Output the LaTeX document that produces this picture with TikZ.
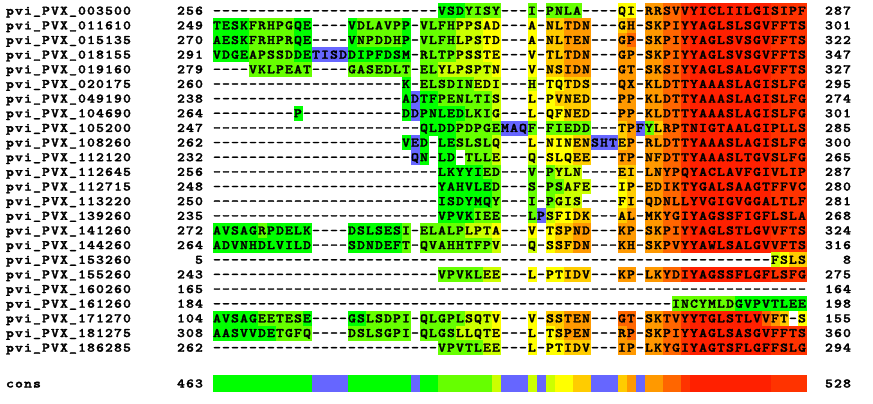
\documentclass[tikz,border=0pt]{standalone}
\usepackage{tikz}
\usepackage{fontspec}
\newfontfamily\resfont{lmmonolt10-bold.otf}[FakeBold=2]
\definecolor{sc0}{HTML}{6666FF}
\definecolor{sc1}{HTML}{00FF00}
\definecolor{sc2}{HTML}{66FF00}
\definecolor{sc3}{HTML}{CCFF00}
\definecolor{sc4}{HTML}{FFFF00}
\definecolor{sc5}{HTML}{FFCC00}
\definecolor{sc6}{HTML}{FF9900}
\definecolor{sc7}{HTML}{FF6600}
\definecolor{sc8}{HTML}{FF3300}
\definecolor{sc9}{HTML}{FF2000}

% one character per 9pt cell, '*' leaves the cell empty
\newcount\cellno
\makeatletter
\newcommand\putchars[4]{% tag, first cell, row centre, characters
  \cellno=#2\relax\def\cell@tag{#1}\def\cell@y{#3}%
  \expandafter\cell@char#4\@nil}
\def\cell@char#1{%
  \ifx#1\@nil\else
    \ifx#1*\else
      \node[res] (\cell@tag-\the\cellno) at ({10+9*\the\cellno},{\cell@y+4}) {\scalebox{1.15}[1]{#1}};%
    \fi
    \advance\cellno by 1\relax
    \expandafter\cell@char
  \fi}
\newcommand\putscores[4]{% first cell, row centre, height, score digits
  \cellno=#1\relax\def\cell@y{#2}\def\cell@h{#3}%
  \expandafter\cell@fill#4\@nil}
\def\cell@fill#1{%
  \ifx#1\@nil\else
    \ifx#1*\else
      \fill[sc#1] ({5.5+9*\the\cellno},{\cell@y-\cell@h/2}) rectangle +(9.3,\cell@h+0.3);%
    \fi
    \advance\cellno by 1\relax
    \expandafter\cell@fill
  \fi}
\makeatother

\begin{document}
\begin{tikzpicture}[x=1pt,y=-1pt,
  res/.style={font={\resfont\fontsize{13}{13}\selectfont},text=black,inner sep=0pt,anchor=base}]
  \fill[white] (0,0) rectangle (873,404);
  \useasboundingbox (0,0) rectangle (873,404);

  % alignment rows: id / start / residues / scores / end
  \foreach \id/\lnum/\seq/\score/\rnum [count=\i from 0] in {
    003500/256/-------------------------VSDYISY---I-PNLA----QI-RRSVVYICLIILGISIPF/*************************1112222***2*2222****44*667789999999998888/287,
    011610/249/TESKFRHPGQE----VDLAVPP-VLFHPPSAD---A-NLTDN---GH-SKPIYYAGLSLSGVFFTS/11112222211****1222221*222233344***4*55666***56*667789999999998888/301,
    015135/270/AESKFRHPRQE----VNPDDHP-VLFHLPSTD---A-NLTEN---GP-SKPIYYAGLSVSGVFFTS/11112222211****1222221*222233344***4*55666***67*667789999999998888/322,
    018155/291/VDGEAPSSDDETISDDIPFDSM-RLTPPSSTE---V-TLTDN---GP-SKPIYYAGLSVSGVFFTS/1111222221100001111111*222233344***4*55666***66*667789999999998888/347,
    019160/279/----VKLPEAT----GASEDLT-ELYLPSPTN---V-NSIDN---GT-SKSIYYAGLSALGVFFTS/****2222222****2222222*223333334***4*55666***66*667789999999998888/327,
    020175/260/---------------------K-ELSDINEDI---H-TQTDS---QX-KLDTTYAAASLAGISLFG/*********************1*222222333***3*44555***66*667789999999998888/295,
    049190/238/---------------------ADTFPENLTIS---L-PVNED---PP-KLDTTYAAASLAGISLFG/*********************10112222223***4*45555***66*667789999999998888/274,
    104690/264/---------P-----------DDPNLEDLKIG---L-QFNED---PP-KLDTTYAAASLAGISLFG/*********1***********10111112223***4*44555***66*667789999999998888/301,
    105200/247/-----------------------QLDDPDPGEMAQF-FIEDD---TPFYLRPTNIGTAALGIPLLS/***********************1111222220002*22222***560257789999999998888/285,
    108260/262/---------------------VED-LESLSLQ---L-NINENSHTEP-RLDTTYAAASLAGISLFG/*********************101*1122223***4*4445500056*667789999999998888/300,
    112120/232/----------------------QN-LD-TLLE---Q-SLQEE---TP-NFDTTYAAASLTGVSLFG/**********************01*11*2223***3*44455***66*667789999999998888/265,
    112645/256/-------------------------LKYYIED---V-PYLN----EI-LNYPQYACLAVFGIVLIP/*************************1111122***2*2333****55*667789999999998888/287,
    112715/248/-------------------------YAHVLED---S-PSAFE---IP-EDIKTYGALSAAGTFFVC/*************************1111112***2*22333***45*667789999999998888/280,
    113220/250/-------------------------ISDYMQY---I-PGIS----FI-QDNLLYVGIGVGGALTLF/*************************1111112***2*2333****45*667789999999998888/281,
    139260/235/-------------------------VPVKIEE---LPSFIDK---AL-MKYGIYAGSSFIGFLSLA/*************************1111222***2034455***56*667789999999998888/268,
    141260/272/AVSAGRPDELK----DSLSESI-ELALPLPTA---V-TSPND---KP-SKPIYYAGLSTLGVVFTS/11111211111****1111112*222223334***4*45566***66*667789999999998888/324,
    144260/264/ADVNHDLVILD----SDNDEFT-QVAHHTFPV---Q-SSFDN---KH-SKPVYYAWLSALGVVFTS/11111111111****1111112*222222223***3*45566***66*667789999999998888/316,
    153260/**5/--------------------------------------------------------------FSLS/**************************************************************3455/**8,
    155260/243/-------------------------VPVKLEE---L-PTIDV---KP-LKYDIYAGSSFLGFLSFG/*************************2222233***4*44555***66*667789999999998888/275,
    160260/165/------------------------------------------------------------------/******************************************************************/164,
    161260/184/---------------------------------------------------INCYMLDGVPVTLEE/***************************************************222222211111111/198,
    171270/104/AVSAGEETESE----GSLSDPI-QLGPLSQTV---V-SSTEN---GT-SKTVYYTGLSTLVVFT-S/11111222221****1122222*222223334***4*55666***77*6677899999999765*4/155,
    181275/308/AASVVDETGFQ----DSLSGPI-QLGSLLQTE---L-TSPEN---RP-SKPIYYAGLSASGVFFTS/11111112222****2222222*222233334***4*45666***67*667789999999998888/360,
    186285/262/-------------------------VPVTLEE---L-PTIDV---IP-LKYGIYAGTSFLGFFSLG/*************************2222233***4*44555***66*667789999999998888/294}
  {
    \pgfmathsetmacro\rowy{10.7+14.65*\i}
    \putscores{23}{\rowy}{14.65}{\score}
    \putchars{n\id}{0}{\rowy}{pvi\_PVX\_}
    \putchars{m\id}{8}{\rowy}{\id}
    \putchars{l\id}{19}{\rowy}{\lnum}
    \putchars{s\id}{23}{\rowy}{\seq}
    \putchars{r\id}{91}{\rowy}{\rnum}
  }

  % consensus bar
  \putscores{23}{383.5}{17}{111111111110000111111101122222230003034455000560667789999999998888}
  \putchars{cons}{0}{383.5}{cons}
  \putchars{consl}{19}{383.5}{463}
  \putchars{consr}{91}{383.5}{528}
\end{tikzpicture}
\end{document}
